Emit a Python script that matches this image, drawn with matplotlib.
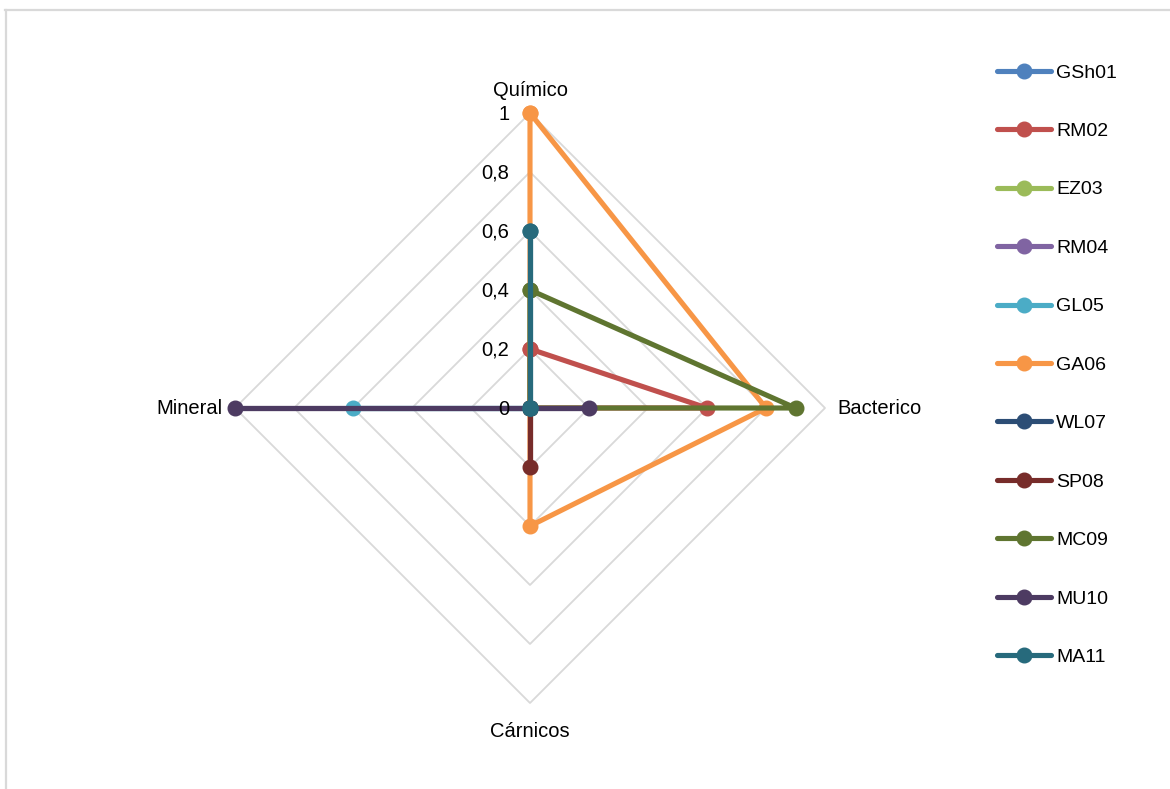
import numpy as np
import matplotlib
matplotlib.use("Agg")
import matplotlib.pyplot as plt
from matplotlib.lines import Line2D

plt.rcParams['font.family'] = ['Liberation Sans', 'DejaVu Sans']

# Axes of the radar chart (clockwise from the top)
categories = ["Químico", "Bacterico", "Cárnicos", "Mineral"]

# Series values, in the same order as the categories
series_names = ["GSh01", "RM02", "EZ03", "RM04", "GL05", "GA06",
                "WL07", "SP08", "MC09", "MU10", "MA11"]
GSh01 = [0, 0, 0, 0]
RM02 = [0.2, 0.6, 0, 0]
EZ03 = [0, 0, 0, 0]
RM04 = [0, 0, 0, 0]
GL05 = [0, 0, 0, 0.6]
GA06 = [1.0, 0.8, 0.4, 0]
WL07 = [0, 0, 0, 0]
SP08 = [0, 0, 0.2, 0]
MC09 = [0.4, 0.9, 0, 0]
MU10 = [0, 0.2, 0, 1.0]
MA11 = [0.6, 0, 0, 0]
series_values = [GSh01, RM02, EZ03, RM04, GL05, GA06,
                 WL07, SP08, MC09, MU10, MA11]

series_colors = ["#4F81BD", "#C0504D", "#9BBB59", "#8064A2", "#4BACC6",
                 "#F79646", "#2C4D75", "#772C2A", "#5F7530", "#4D3B62",
                 "#276A7C"]

ring_values = [0.2, 0.4, 0.6, 0.8, 1.0]
tick_labels = ["0", "0,2", "0,4", "0,6", "0,8", "1"]
tick_values = [0, 0.2, 0.4, 0.6, 0.8, 1.0]

W, H, DPI = 1170, 789, 100
fig = plt.figure(figsize=(W / DPI, H / DPI), dpi=DPI)

# chart-area border (top and left edges)
fig.add_artist(Line2D([5 / W, 1], [1 - 9.5 / H, 1 - 9.5 / H],
                      color="#D9D9D9", lw=1.6, transform=fig.transFigure))
fig.add_artist(Line2D([6 / W, 6 / W], [0, 1 - 9.5 / H],
                      color="#D9D9D9", lw=1.6, transform=fig.transFigure))

cx, cy, R = 530, 408, 295
ax = fig.add_axes([(cx - R) / W, (H - cy - R) / H, 2 * R / W, 2 * R / H],
                  projection="polar")
ax.set_theta_offset(np.pi / 2)
ax.set_theta_direction(-1)
ax.set_ylim(0, 1)
ax.set_xticks([])
ax.set_yticks([])
ax.grid(False)
ax.spines["polar"].set_visible(False)
ax.patch.set_alpha(0)

n = len(categories)
angles = np.arange(n) * 2 * np.pi / n
closed_angles = np.concatenate([angles, angles[:1]])

# diamond gridlines
for rv in ring_values:
    ax.plot(closed_angles, [rv] * (n + 1), color="#D9D9D9", lw=1.3,
            zorder=1, clip_on=False)

# series
for name, vals, col in zip(series_names, series_values, series_colors):
    v = list(vals) + [vals[0]]
    ax.plot(closed_angles, v, color=col, lw=3.7, marker="o", markersize=10.5,
            solid_joinstyle="round", solid_capstyle="round",
            zorder=3, clip_on=False, label=name)

# value labels along the top axis
for tv, tl in zip(tick_values, tick_labels):
    ax.annotate(tl, xy=(0, tv), xytext=(-15, -1), textcoords="offset points",
                ha="right", va="center", fontsize=14.5, color="#000000")

# category labels
offsets = [(0, 16, "center", "center"), (9, 0, "left", "center"),
           (0, -20.5, "center", "center"), (-9, 0, "right", "center")]
for ang, cat, (dx, dy, ha, va) in zip(angles, categories, offsets):
    ax.annotate(cat, xy=(ang, 1.0), xytext=(dx, dy),
                textcoords="offset points", ha=ha, va=va, fontsize=14.5,
                color="#000000")

# legend
handles = [Line2D([], [], color=c, lw=3.7, marker="o", markersize=10.5,
                  solid_capstyle="round") for c in series_colors]
fig.legend(handles, series_names, loc="upper left",
           bbox_to_anchor=(997 / W, 1 - 64 / H), frameon=False,
           fontsize=14, handlelength=2.8, handletextpad=0.25,
           labelspacing=2.1, borderpad=0, borderaxespad=0)

fig.savefig("out.png", dpi=DPI, facecolor="white")
